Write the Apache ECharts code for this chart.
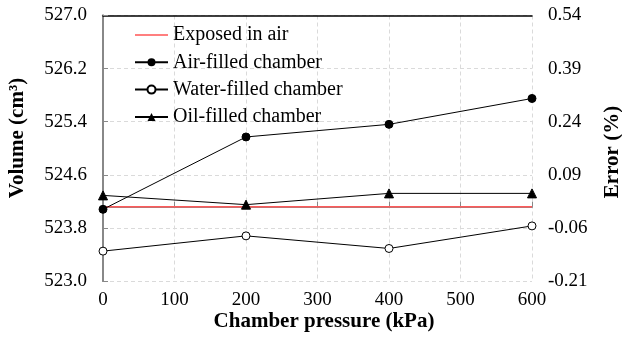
<!DOCTYPE html>
<html><head><meta charset="utf-8">
<script src="https://cdn.jsdelivr.net/npm/echarts@6/dist/echarts.min.js"></script>
<style>html,body{margin:0;padding:0;background:#fff}#c{width:622px;height:337px}</style>
</head><body><div id="c"></div>
<script>
const pressures = [0, 200, 400, 600];
const exposedInAir = [524.12, 524.12, 524.12, 524.12];
const airFilled = [524.08, 525.17, 525.36, 525.75];
const waterFilled = [523.45, 523.68, 523.49, 523.83];
const oilFilled = [524.29, 524.15, 524.32, 524.32];
const seriesNames = ['Exposed in air', 'Air-filled chamber', 'Water-filled chamber', 'Oil-filled chamber'];
const xTitle = 'Chamber pressure (kPa)';
const yTitle = 'Volume (cm³)';
const y2Title = 'Error (%)';

const FONT = 'Liberation Serif';
const pair = arr => pressures.map((p, i) => [p, arr[i]]);
const chart = echarts.init(document.getElementById('c'));
chart.setOption({
  animation: false,
  backgroundColor: '#fff',
  textStyle: { fontFamily: FONT },
  grid: { left: 103, right: 90, top: 15.5, bottom: 56 },
  legend: {
    orient: 'vertical', left: 129, top: 20, itemWidth: 33, itemHeight: 10, itemGap: 7.3,
    textStyle: { fontFamily: FONT, fontSize: 20, color: '#000', lineHeight: 20 },
    data: [
      { name: seriesNames[0], icon: 'path://M0,0H33V1.2H0Z', itemStyle: { color: '#ff0000' } },
      seriesNames[1], seriesNames[2], seriesNames[3]
    ]
  },
  xAxis: [{
    type: 'value', min: 0, max: 600, interval: 100,
    axisLine: { lineStyle: { color: '#888', width: 2 } },
    axisTick: { show: true, inside: true, length: 5, lineStyle: { color: '#888' } },
    axisLabel: { color: '#000', fontSize: 19, fontFamily: FONT, margin: 10 },
    splitLine: { show: true, lineStyle: { color: '#dadada', type: [4, 3] } }
  }, {
    type: 'value', min: 0, max: 600, position: 'top',
    axisLine: { show: true, lineStyle: { color: '#000', width: 1.5 } },
    axisTick: { show: false }, axisLabel: { show: false }, splitLine: { show: false }
  }],
  yAxis: [{
    type: 'value', min: 523, max: 527, interval: 0.8,
    axisLine: { show: true, lineStyle: { color: '#888', width: 2 } },
    axisTick: { show: true, inside: true, length: 5, lineStyle: { color: '#888' } },
    axisLabel: { color: '#000', fontSize: 19, fontFamily: FONT, margin: 16, formatter: v => v.toFixed(1) },
    splitLine: { show: true, lineStyle: { color: '#dadada', type: [4, 3] } }
  }, {
    type: 'value', min: -0.21, max: 0.54, interval: 0.15, position: 'right',
    axisLine: { show: true, lineStyle: { color: '#888', width: 2 } },
    axisTick: { show: true, inside: false, length: 5, lineStyle: { color: '#888' } },
    axisLabel: { color: '#000', fontSize: 19, fontFamily: FONT, margin: 16, formatter: v => (Math.round(v * 100) / 100).toFixed(2) },
    splitLine: { show: false }
  }],
  graphic: [
    { type: 'text', position: [324, 322], style: { text: xTitle, font: 'bold 21px "Liberation Serif"', fill: '#000', textAlign: 'center', textVerticalAlign: 'middle' } },
    { type: 'text', rotation: Math.PI / 2, position: [18, 138], style: { text: yTitle, font: 'bold 21px "Liberation Serif"', fill: '#000', textAlign: 'center', textVerticalAlign: 'middle' } },
    { type: 'text', rotation: Math.PI / 2, position: [613, 152], style: { text: y2Title, font: 'bold 21px "Liberation Serif"', fill: '#000', textAlign: 'center', textVerticalAlign: 'middle' } }
  ],
  series: [
    { name: seriesNames[0], type: 'line', data: pair(exposedInAir), showSymbol: false, symbol: 'none',
      lineStyle: { color: '#ff5a5a', width: 1.5 }, itemStyle: { color: '#ff0000' }, z: 1 },
    { name: seriesNames[1], type: 'line', data: pair(airFilled), symbol: 'circle', symbolSize: 8,
      lineStyle: { color: '#000', width: 1 }, itemStyle: { color: '#000', borderColor: '#000' } },
    { name: seriesNames[2], type: 'line', data: pair(waterFilled), symbol: 'circle', symbolSize: 8,
      lineStyle: { color: '#000', width: 1 }, itemStyle: { color: '#fff', borderColor: '#000', borderWidth: 1 } },
    { name: seriesNames[3], type: 'line', data: pair(oilFilled), symbol: 'triangle', symbolSize: 9,
      lineStyle: { color: '#000', width: 1 }, itemStyle: { color: '#000', borderColor: '#000' } }
  ]
});
</script></body></html>
